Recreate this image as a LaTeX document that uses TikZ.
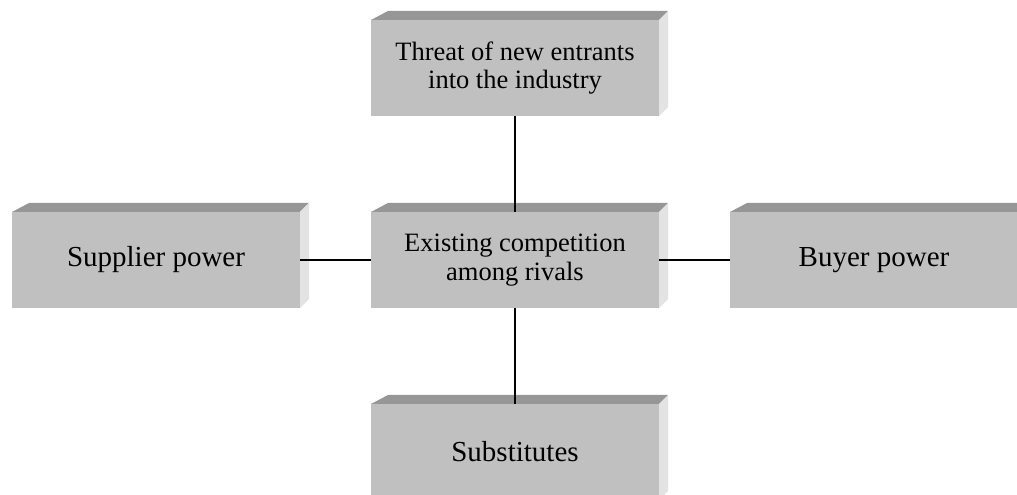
\documentclass[tikz,border=0pt]{standalone}
\usepackage{fontspec}
\setmainfont{Liberation Serif}
\usetikzlibrary{positioning}
\definecolor{slabfront}{RGB}{192,192,192}
\definecolor{slabtop}{RGB}{150,150,150}
\definecolor{slabside}{RGB}{227,227,227}
\begin{document}
\begin{tikzpicture}[x=1pt, y=1pt,
  node distance=96pt and 71pt,
  slab/.style={rectangle, fill=slabfront, minimum width=288pt, minimum height=96pt, inner sep=0pt, outer sep=0pt, align=center},
  bigtext/.style={font=\fontsize{29}{33}\selectfont},
  smalltext/.style={font=\fontsize{26.5}{28.5}\selectfont},
  link/.style={draw, black, line width=1.5pt},
]
\useasboundingbox (0,0) rectangle (1017,495);
\clip (0,0) rectangle (1017,495);
\node[slab, smalltext] (rivals) at (515,235) {Existing competition\\among rivals};
\node[slab, smalltext, above=of rivals] (entrants) {Threat of new entrants\\into the industry};
\node[slab, bigtext, left=of rivals] (supplier) {Supplier power};
\node[slab, bigtext, right=of rivals] (buyer) {Buyer power};
\node[slab, bigtext, below=of rivals] (substitutes) {Substitutes};
% bevelled top and side of each slab
\foreach \n in {entrants, rivals, supplier, buyer, substitutes} {
  \fill[slabtop] (\n.north west) -- ++(17,9) -- ([shift={(9,9)}]\n.north east) -- (\n.north east) -- cycle;
  \fill[slabside] (\n.north east) -- ++(9,9) -- ([shift={(9,9)}]\n.south east) -- (\n.south east) -- cycle;
}
\draw[link] (entrants) -- (rivals);
\draw[link] (rivals) -- (substitutes);
\draw[link] (supplier) -- (rivals);
\draw[link] (rivals) -- (buyer);
\end{tikzpicture}
\end{document}
